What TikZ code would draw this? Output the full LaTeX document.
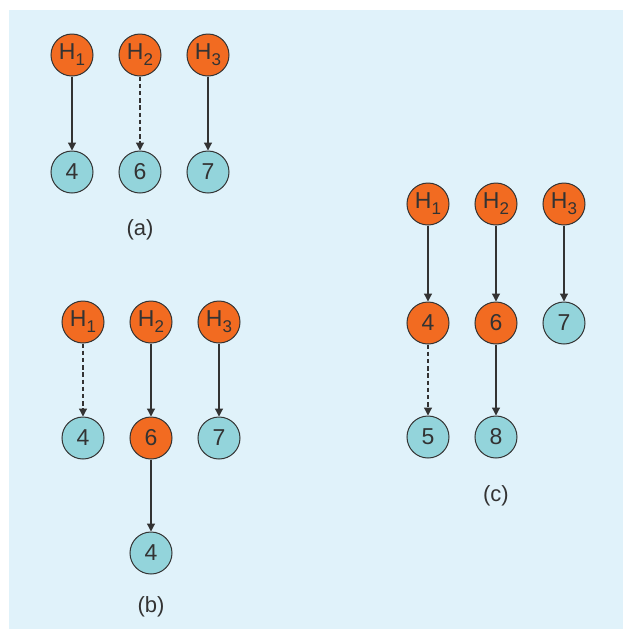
\documentclass[tikz,border=0pt]{standalone}
\usepackage{fontspec}
\setmainfont{Liberation Sans}
\usetikzlibrary{arrows.meta}

\definecolor{bgblue}{HTML}{E0F2FA}
\definecolor{hotorange}{HTML}{F26B21}
\definecolor{coolteal}{HTML}{93D4DB}
\definecolor{linegray}{HTML}{333333}

\newcommand{\hsub}[1]{\raisebox{-0.5ex}{\fontsize{8.5}{9}\selectfont #1}}

\tikzset{
  state/.style={circle, draw=linegray, line width=0.5pt, minimum size=21pt, inner sep=0pt,
    text=linegray, font=\fontsize{11.5}{13}\selectfont},
  hot/.style={state, fill=hotorange},
  cool/.style={state, fill=coolteal},
  link/.style={draw=linegray, line width=0.6pt, -{Triangle[length=4pt,width=4pt]}},
  weak/.style={link, dash pattern=on 2.2pt off 1.4pt},
  caption/.style={text=linegray, font=\fontsize{11}{13}\selectfont}
}

\begin{document}
\begin{tikzpicture}[x=0.5pt,y=-0.5pt]
			\useasboundingbox (0,0) rectangle (623,629);
			\fill[bgblue] (9,10) rectangle (623,629);
			
			% (a)
			\node[hot] (aH1) at (72,55) {H\hsub{1}};
			\node[hot] (aH2) at (140,55) {H\hsub{2}};
			\node[hot] (aH3) at (208,55) {H\hsub{3}};
			\node[cool] (a4) at (72,172) {4};
			\node[cool] (a6) at (140,172) {6};
			\node[cool] (a7) at (208,172) {7};
			\node[caption] (alab) at (140,230) {(a)};
			
			\draw[link] (aH1) -- (a4);
			\draw[weak] (aH2) -- (a6);
			\draw[link] (aH3) -- (a7);
			
			% (b)
			\node[hot] (bH1) at (83,322) {H\hsub{1}};
			\node[hot] (bH2) at (151,322) {H\hsub{2}};
			\node[hot] (bH3) at (219,322) {H\hsub{3}};
			\node[cool] (b4) at (83,438) {4};
			\node[hot] (b6) at (151,438) {6};
			\node[cool] (b7) at (219,438) {7};
			\node[cool] (b4low) at (151,553) {4};
			\node[caption] (blab) at (151,607) {(b)};
			
			\draw[weak] (bH1) -- (b4);
			\draw[link] (bH2) -- (b6);
			\draw[link] (bH3) -- (b7);
			\draw[link] (b6) -- (b4low);
			
			% (c)
			\node[hot] (cH1) at (428,204) {H\hsub{1}};
			\node[hot] (cH2) at (496,204) {H\hsub{2}};
			\node[hot] (cH3) at (564,204) {H\hsub{3}};
			\node[hot] (c4) at (428,323) {4};
			\node[hot] (c6) at (496,323) {6};
			\node[cool] (c7) at (564,323) {7};
			\node[cool] (c5) at (428,437) {5};
			\node[cool] (c8) at (496,437) {8};
			\node[caption] (clab) at (496,496) {(c)};
			
			\draw[link] (cH1) -- (c4);
			\draw[link] (cH2) -- (c6);
			\draw[link] (cH3) -- (c7);
			\draw[weak] (c4) -- (c5);
			\draw[link] (c6) -- (c8);
\end{tikzpicture}
\end{document}
